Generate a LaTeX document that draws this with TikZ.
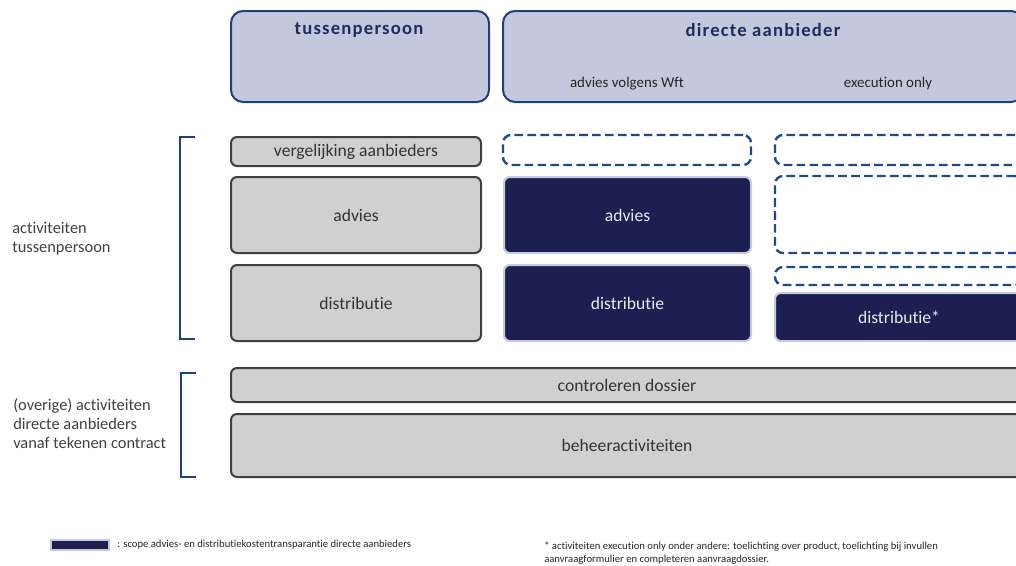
\documentclass[tikz,border=0pt]{standalone}
\usepackage{fontspec}
\setmainfont{Carlito}[Ligatures={NoCommon}]
\newfontfamily\hdrfont{Carlito}[Ligatures={NoCommon}, LetterSpace=6.5]
\definecolor{hdrfill}{HTML}{C3C8DC}
\definecolor{hdrline}{HTML}{1F3F7F}
\definecolor{hdrtext}{HTML}{1C2D5E}
\definecolor{grayfill}{HTML}{D0D0D0}
\definecolor{grayline}{HTML}{404040}
\definecolor{navyfill}{HTML}{1C2050}
\definecolor{navyline}{HTML}{C5CAE0}
\definecolor{dashline}{HTML}{1F4A8A}
\definecolor{bodytext}{HTML}{404040}
\definecolor{lighttext}{HTML}{E8EAF2}
\tikzset{
  pbox/.style 2 args={minimum width=#1*0.75pt, minimum height=#2*0.75pt, inner sep=0pt},
  hdrbox/.style={draw=hdrline, fill=hdrfill, line width=1.5pt, rounded corners=9pt},
  hdrlabel/.style={text=hdrtext, font=\hdrfont\fontsize{14}{17}\selectfont\bfseries},
  sublabel/.style={text=black!85, font=\fontsize{11.2}{13}\selectfont},
  graybox/.style={draw=grayline, fill=grayfill, line width=1.5pt, rounded corners=4.5pt, text=black!80, font=\fontsize{13.2}{15}\selectfont},
  navybox/.style={draw=navyline, fill=navyfill, line width=1.5pt, rounded corners=4.5pt, text=lighttext, font=\fontsize{13.2}{15}\selectfont},
  dashbox/.style={draw=dashline, line width=1.8pt, dash pattern=on 6.5pt off 3.2pt, rounded corners=6pt},
  bracketline/.style={draw=hdrline, line width=0.8pt},
  sidelabel/.style={text=bodytext, align=left, anchor=west, inner sep=0pt, font=\fontsize{12.3}{14.25}\selectfont},
  smalltext/.style={text=black!85, align=left, anchor=west, inner sep=0pt, font=\fontsize{8}{9.75}\selectfont}
}
\begin{document}
\begin{tikzpicture}[x=0.75pt,y=-0.75pt]
\useasboundingbox (0,0) rectangle (1016,565);
\clip (0,0) rectangle (1016,565);
% headers
\node[hdrbox, pbox={258}{91}] (hTP) at (360,56.5) {};
\node[hdrlabel] (hTPt) at (359,30.5) {tussenpersoon};
\node[hdrbox, pbox={520}{91}] (hDA) at (763,56.5) {};
\node[hdrlabel] (hDAt) at (763,30.5) {directe aanbieder};
\node[sublabel] (hWft) at (627,84) {advies volgens Wft};
\node[sublabel] (hEO) at (888,84) {execution only};
% tussenpersoon column
\node[graybox, pbox={250}{29}] (verg) at (356,151.5) {vergelijking aanbieders};
\node[graybox, pbox={250}{76}] (advT) at (356,215) {advies};
\node[graybox, pbox={250}{76}] (disT) at (356,303) {distributie};
% advies volgens Wft column
\node[dashbox, pbox={248}{30}] (d1) at (627,150) {};
\node[navybox, pbox={247}{76}] (advW) at (627.5,215) {advies};
\node[navybox, pbox={247}{76}] (disW) at (627.5,303) {distributie};
% execution only column
\node[dashbox, pbox={248}{30}] (d2) at (899,150) {};
\node[dashbox, pbox={248}{77}] (d3) at (899,214.5) {};
\node[dashbox, pbox={248}{18}] (d4) at (899,276) {};
\node[navybox, pbox={248}{48}] (disE) at (899,317) {distributie*};
% bottom rows
\node[graybox, pbox={792}{34}] (ctrl) at (627,385) {controleren dossier};
\node[graybox, pbox={792}{63}] (beh) at (627,445.5) {beheeractiviteiten};
% brackets
\coordinate (b1a) at (195,137);
\coordinate (b1b) at (195,339);
\draw[bracketline] (b1a) -- (180,137) -- (180,339) -- (b1b);
\coordinate (b2a) at (196,373);
\coordinate (b2b) at (196,477);
\draw[bracketline] (b2a) -- (181,373) -- (181,477) -- (b2b);
% side labels
\node[sidelabel] (sl1) at (12,239) {activiteiten\\tussenpersoon};
\node[sidelabel] (sl2) at (13,424) {(overige) activiteiten\\directe aanbieders\\vanaf tekenen contract};
% legend
\node[draw=navyline, fill=navyfill, line width=1pt, pbox={58}{10}] (leg) at (80,545) {};
\node[smalltext] (legt) at (117,545) {: scope advies- en distributiekostentransparantie directe aanbieders};
\node[smalltext] (fn) at (544,553.5) {* activiteiten execution only onder andere: toelichting over product, toelichting bij invullen\\aanvraagformulier en completeren aanvraagdossier.};
\end{tikzpicture}
\end{document}
